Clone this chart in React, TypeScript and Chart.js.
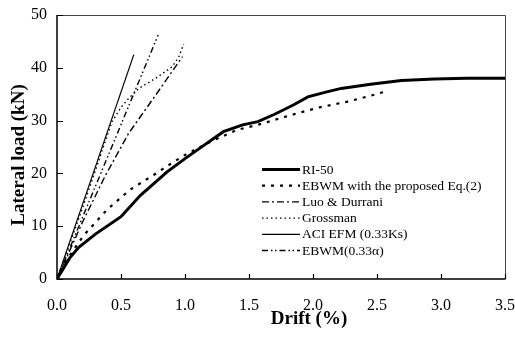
import React, { useEffect, useRef } from "react";
import { Chart, registerables } from "chart.js";

Chart.register(...registerables);

// ---- data ----
const riDrift = [0, 0.05, 0.1, 0.17, 0.3, 0.5, 0.65, 0.86, 1.0, 1.1, 1.3, 1.45, 1.57, 1.7, 1.85, 1.96, 2.1, 2.22, 2.45, 2.69, 2.95, 3.2, 3.5];
const riLoad = [0, 2, 4, 6, 8.5, 11.8, 15.8, 20.3, 22.8, 24.5, 27.9, 29.2, 29.8, 31.2, 33, 34.5, 35.4, 36.1, 36.9, 37.6, 37.9, 38, 38];

const ebwmDrift = [0, 0.1, 0.21, 0.39, 0.57, 0.755, 0.9, 1.0, 1.2, 1.4, 1.57, 1.75, 1.88, 2.05, 2.27, 2.45, 2.55];
const ebwmLoad = [0, 4.5, 8.3, 13.1, 16.9, 19.7, 22, 23.5, 26, 28.2, 29.2, 30.5, 31.4, 32.5, 33.6, 34.7, 35.4];

const luoDrift = [0, 0.2, 0.38, 0.56, 0.77, 0.98];
const luoLoad = [0, 10.8, 19.7, 27.6, 34.8, 42.1];

const grossDrift = [0, 0.2, 0.43, 0.5, 0.56, 0.64, 0.77, 0.9, 0.95, 0.99];
const grossLoad = [0, 13.5, 29.8, 32.5, 34.2, 36.1, 38, 40.2, 42, 44.5];

const aciDrift = [0, 0.6];
const aciLoad = [0, 42.5];

const ebwm33Drift = [0, 0.79];
const ebwm33Load = [0, 46.2];

const seriesNames = [
  "RI-50",
  "EBWM with the proposed Eq.(2)",
  "Luo & Durrani",
  "Grossman",
  "ACI EFM (0.33Ks)",
  "EBWM(0.33\u03b1)",
];

const xTicks = [0, 0.5, 1, 1.5, 2, 2.5, 3, 3.5];
const yTicks = [0, 10, 20, 30, 40, 50];

const xTitle = "Drift (%)";
const yTitle = "Lateral load (kN)";

const SERIF = "'Liberation Serif', 'Times New Roman', serif";

function pts(xs: number[], ys: number[]) {
  return xs.map((x, i) => ({ x, y: ys[i] }));
}

const styles = [
  { borderWidth: 3, borderDash: [] as number[] },
  { borderWidth: 2.2, borderDash: [3, 6] },
  { borderWidth: 1.4, borderDash: [7, 3, 2, 3] },
  { borderWidth: 1.4, borderDash: [1.5, 3] },
  { borderWidth: 1.2, borderDash: [] as number[] },
  { borderWidth: 1.4, borderDash: [6, 3, 1.5, 2.5, 1.5, 3] },
];

const decorPlugin = {
  id: "decor",
  afterDraw(chart: any) {
    const ctx = chart.ctx as CanvasRenderingContext2D;
    const { left, right, top, bottom } = chart.chartArea;
    const xs = chart.scales.x;
    const ys = chart.scales.y;
    ctx.save();
    // box
    ctx.strokeStyle = "#444";
    ctx.lineWidth = 1;
    ctx.beginPath();
    ctx.moveTo(left, top + 0.5);
    ctx.lineTo(right + 0.5, top + 0.5);
    ctx.lineTo(right + 0.5, bottom);
    ctx.stroke();
    ctx.strokeStyle = "#000";
    ctx.lineWidth = 1.5;
    ctx.beginPath();
    ctx.moveTo(left, top);
    ctx.lineTo(left, bottom);
    ctx.lineTo(right + 0.5, bottom);
    ctx.stroke();
    // inward ticks
    ctx.lineWidth = 1.2;
    ctx.beginPath();
    xTicks.forEach((v) => {
      const px = Math.round(xs.getPixelForValue(v)) + 0.5;
      ctx.moveTo(px, bottom);
      ctx.lineTo(px, bottom - 5);
    });
    yTicks.forEach((v) => {
      const py = Math.round(ys.getPixelForValue(v)) + 0.5;
      ctx.moveTo(left, py);
      ctx.lineTo(left + 6, py);
    });
    ctx.stroke();

    // axis titles
    ctx.fillStyle = "#000";
    ctx.font = `bold 19px ${SERIF}`;
    ctx.textAlign = "center";
    ctx.textBaseline = "middle";
    ctx.fillText(xTitle, (left + right) / 2 + 28, bottom + 40);
    ctx.save();
    ctx.translate(19, (top + bottom) / 2 + 8);
    ctx.rotate(-Math.PI / 2);
    ctx.fillText(yTitle, 0, 0);
    ctx.restore();

    // legend
    const lx0 = left + 205;
    const lx1 = left + 243;
    let ly = top + 154;
    ctx.font = `13.5px ${SERIF}`;
    ctx.textAlign = "left";
    ctx.textBaseline = "middle";
    chart.data.datasets.forEach((ds: any) => {
      ctx.strokeStyle = "#000";
      ctx.lineWidth = ds.borderWidth;
      ctx.setLineDash(ds.borderDash || []);
      ctx.beginPath();
      ctx.moveTo(lx0, ly + 0.5);
      ctx.lineTo(lx1, ly + 0.5);
      ctx.stroke();
      ctx.setLineDash([]);
      ctx.fillText(ds.label, lx1 + 2, ly + 1);
      ly += 16.2;
    });
    ctx.restore();
  },
};

export default function App() {
  const ref = useRef<HTMLCanvasElement | null>(null);
  useEffect(() => {
    document.body.style.margin = "0";
    const all = [
      pts(riDrift, riLoad),
      pts(ebwmDrift, ebwmLoad),
      pts(luoDrift, luoLoad),
      pts(grossDrift, grossLoad),
      pts(aciDrift, aciLoad),
      pts(ebwm33Drift, ebwm33Load),
    ];
    const chart = new Chart(ref.current as HTMLCanvasElement, {
      type: "scatter",
      data: {
        datasets: all.map((d, i) => ({
          label: seriesNames[i],
          data: d,
          showLine: true,
          borderColor: "#000",
          backgroundColor: "#000",
          borderWidth: styles[i].borderWidth,
          borderDash: styles[i].borderDash,
          pointRadius: 0,
          tension: 0,
          fill: false,
        })),
      },
      options: {
        animation: false,
        responsive: false,
        devicePixelRatio: 1,
        layout: { padding: { left: 0, right: 10, top: 15, bottom: 0 } },
        plugins: { legend: { display: false }, tooltip: { enabled: false }, title: { display: false } },
        scales: {
          x: {
            type: "linear",
            min: 0,
            max: 3.5,
            border: { display: false },
            grid: { display: false, drawTicks: false },
            afterFit: (s: any) => {
              s.height = 59;
              s.paddingLeft = 0;
              s.paddingRight = 0;
            },
            afterBuildTicks: (s: any) => {
              s.ticks = xTicks.map((v) => ({ value: v }));
            },
            ticks: {
              color: "#000",
              padding: 17,
              maxRotation: 0,
              font: { family: SERIF, size: 16 },
              callback: (v: any) => Number(v).toFixed(1),
            },
          },
          y: {
            type: "linear",
            min: 0,
            max: 50,
            border: { display: false },
            grid: { display: false, drawTicks: false },
            afterFit: (s: any) => {
              s.width = 57;
              s.paddingTop = 0;
              s.paddingBottom = 0;
            },
            afterBuildTicks: (s: any) => {
              s.ticks = yTicks.map((v) => ({ value: v }));
            },
            ticks: {
              color: "#000",
              padding: 10,
              font: { family: SERIF, size: 16 },
              callback: (v: any) => String(v),
            },
          },
        },
      },
      plugins: [decorPlugin],
    } as any);
    return () => chart.destroy();
  }, []);
  return (
    <div style={{ position: "absolute", left: 0, top: 0, width: 515, height: 338 }}>
      <canvas ref={ref} width={515} height={338} style={{ display: "block", width: 515, height: 338 }} />
    </div>
  );
}
